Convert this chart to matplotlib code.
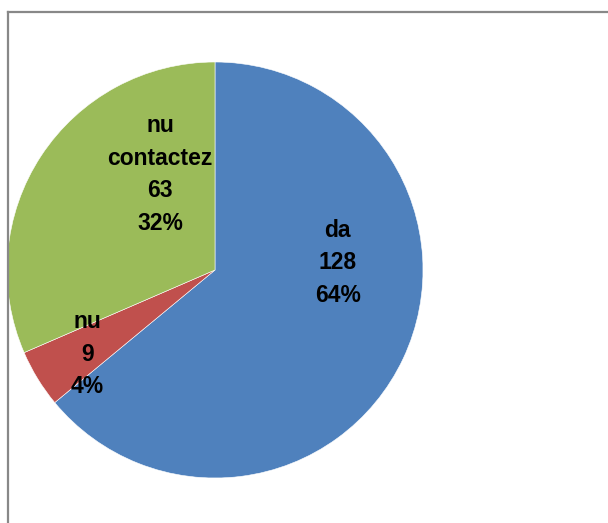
import matplotlib.pyplot as plt
from matplotlib.lines import Line2D

labels = ['da', 'nu', 'nu\ncontactez']
values = [128, 9, 63]
percents = ['64%', '4%', '32%']
colors = ['#4F81BD', '#C0504D', '#9BBB59']
# label block centres, in pie-radius units
label_pos = [(0.59, 0.034), (-0.615, -0.404), (-0.264, 0.459)]

fig = plt.figure(figsize=(6.08, 5.23), dpi=100)

# chart frame (cut off on the right and bottom)
fig.add_artist(Line2D([7.5 / 608, 7.5 / 608], [0, 1 - 11.5 / 523],
                      color='#888888', lw=1.6, transform=fig.transFigure))
fig.add_artist(Line2D([7.5 / 608, 1], [1 - 11.5 / 523, 1 - 11.5 / 523],
                      color='#888888', lw=1.6, transform=fig.transFigure))

ax = fig.add_axes([7 / 608, 45 / 523, 416 / 608, 416 / 523])
ax.pie(values, colors=colors, startangle=90, counterclock=False,
       wedgeprops=dict(edgecolor='white', linewidth=0.4))
ax.set_xlim(-1, 1)
ax.set_ylim(-1, 1)
ax.set_aspect('equal')

for lab, v, p, (x, y) in zip(labels, values, percents, label_pos):
    ax.text(x, y, f'{lab}\n{v}\n{p}', ha='center', va='center',
            fontsize=16.5, fontweight='bold', family='Liberation Sans',
            linespacing=1.52, color='black')

fig.savefig('out.png', dpi=100)
